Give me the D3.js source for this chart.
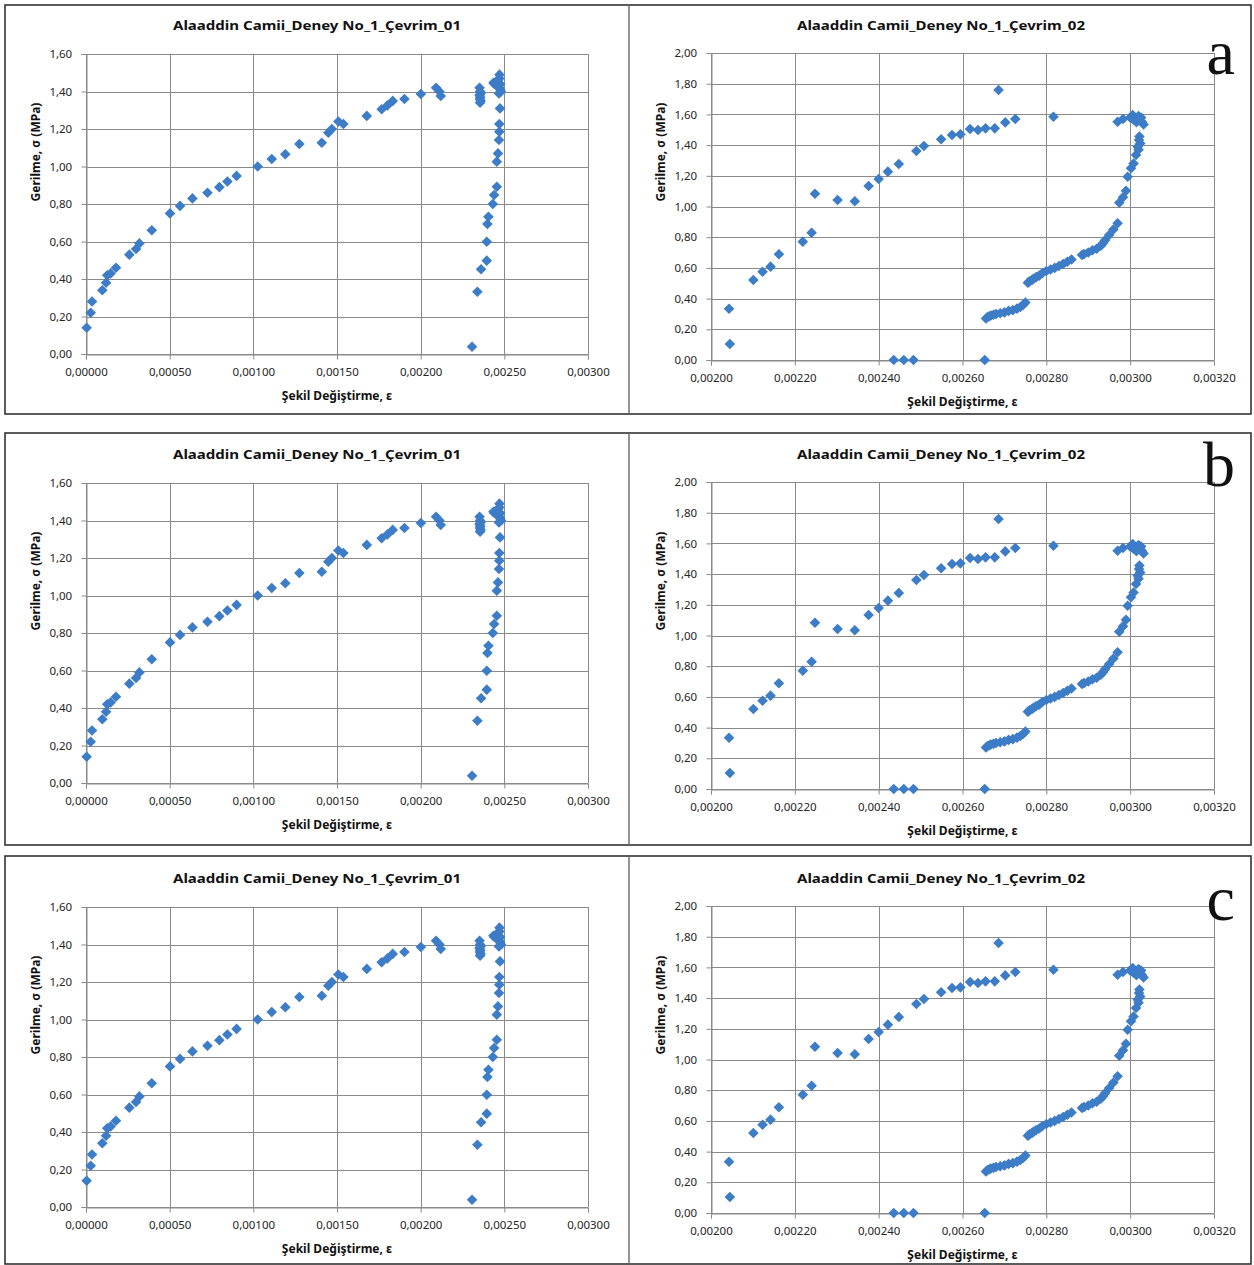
<!DOCTYPE html>
<html>
<head>
<meta charset="utf-8">
<script src="https://cdn.jsdelivr.net/npm/d3@7"></script>
<style>
  body { margin: 0; background: #fff; }
  svg { display: block; }
</style>
</head>
<body>
<svg id="mainsvg" width="1254" height="1265"></svg>
<script>
// cycle 01 : strain / stress
const strain01 = [0.000004,0.000028,0.000036,0.0000975,0.00012,0.000127,0.000147,0.000179,0.000259,0.000299,0.000319,0.000393,0.000502,0.000562,0.000636,0.000726,0.000797,0.000845,0.0009,0.001026,0.00111,0.001191,0.001275,0.001409,0.001448,0.001469,0.001508,0.001538,0.001678,0.001767,0.001801,0.001833,0.001903,0.002001,0.002092,0.002112,0.00212,
  0.002352,0.002355,0.002358,0.002352,0.002356,0.002354,0.002358,0.002355,
  0.002471,0.002435,0.00244,0.00245,0.00246,0.00247,0.002465,0.00247,0.002475,0.00248,0.002475,0.002468,
  0.002474,0.00247,0.00247,0.002468,0.002462,0.002455,0.002455,0.002439,0.002431,0.002405,0.002399,0.002395,0.002395,0.002361,0.002339,0.002307]
const stress01 = [0.14,0.22,0.28,0.34,0.38,0.42,0.43,0.46,0.53,0.56,0.59,0.66,0.75,0.79,0.83,0.86,0.89,0.92,0.95,1.00,1.04,1.065,1.12,1.127,1.18,1.20,1.24,1.227,1.27,1.305,1.326,1.35,1.36,1.387,1.42,1.40,1.376,
  1.42,1.40,1.39,1.38,1.37,1.36,1.35,1.34,
  1.49,1.447,1.44,1.45,1.46,1.47,1.43,1.42,1.41,1.40,1.44,1.39,
  1.31,1.227,1.186,1.141,1.07,1.026,0.892,0.848,0.80,0.732,0.693,0.599,0.498,0.452,0.332,0.039]

// cycle 02
const strain02 = [0.002043,0.002045,0.002101,0.002123,0.002142,0.002162,0.002219,0.00224,0.002248,0.002302,0.002343,0.002376,0.0024,0.002422,0.002448,0.00249,0.002508,0.002549,0.002575,0.002595,0.002618,0.002637,0.002655,0.002677,0.002702,0.002726,0.002686,0.002817,
  0.002436,0.00246,0.002483,0.002653,
  0.002656,0.00266,0.002664,0.002668,0.002674,0.00268,0.00269,0.0027,0.00271,0.00272,0.00273,0.002738,0.002745,0.00275,
  0.002756,0.00276,0.002766,0.00277,0.002776,0.002783,0.00279,0.0028,0.00281,0.00282,0.00283,0.00284,0.00285,0.00286,
  0.002885,0.00289,0.0029,0.00291,0.00292,0.00293,0.002935,0.00294,0.00295,0.00296,0.00297,
  0.002974,0.002983,0.00299,0.002994,0.003002,0.003008,0.003014,0.00302,0.003021,0.003022,0.003024,0.003018,
  0.003006,0.003024,0.00297,0.002983,0.003,0.003012,0.00302,0.003028,0.003015,0.003026,0.003008,0.003032]
const stress02 = [0.334,0.104,0.521,0.575,0.608,0.689,0.771,0.829,1.083,1.042,1.034,1.134,1.179,1.227,1.277,1.362,1.394,1.438,1.466,1.47,1.505,1.498,1.509,1.509,1.548,1.57,1.759,1.585,
  0,0,0,0,
  0.27,0.28,0.285,0.29,0.295,0.30,0.305,0.31,0.32,0.325,0.335,0.345,0.36,0.375,
  0.504,0.512,0.522,0.53,0.54,0.55,0.565,0.58,0.59,0.60,0.612,0.625,0.64,0.655,
  0.684,0.69,0.70,0.715,0.725,0.745,0.76,0.78,0.814,0.85,0.891,
  1.025,1.06,1.103,1.194,1.249,1.28,1.336,1.37,1.433,1.456,1.41,1.39,
  1.596,1.56,1.552,1.57,1.58,1.57,1.59,1.55,1.55,1.58,1.565,1.535]

const xTicks01 = [0,0.0005,0.001,0.0015,0.002,0.0025,0.003]
const yTicks01 = [0,0.2,0.4,0.6,0.8,1.0,1.2,1.4,1.6]
const xTicks02 = [0.002,0.0022,0.0024,0.0026,0.0028,0.003,0.0032]
const yTicks02 = [0,0.2,0.4,0.6,0.8,1.0,1.2,1.4,1.6,1.8,2.0]

const titles = ['Alaaddin Camii_Deney No_1_Çevrim_01','Alaaddin Camii_Deney No_1_Çevrim_02']
const panelLabels = ['a','b','c']

const xTitle = 'Şekil Değiştirme, ε'
const yTitle = 'Gerilme, σ (MPa)'

const trLocale = d3.formatLocale({decimal: ',', thousands: '.', grouping: [3], currency: ['', '']})
const fmtX = trLocale.format('.5f')
const fmtY = trLocale.format('.2f')

const markColor = '#3d7cc6'
const gridColor = '#8a8a8a'
const labelFont = '"Noto Sans", "Open Sans", sans-serif'

const svg = d3.select('#mainsvg')

// row boxes: top, height, vertical shift of the charts, letter baseline
const rows = [
  {top: 5, h: 409, dy: 0, lab: 74},
  {top: 433, h: 412, dy: 429, lab: 486},
  {top: 856, h: 408, dy: 853, lab: 920}
]

function drawChart(g, xs, ys, xDom, yDom, xTicks, yTicks, box, title, titleX, xTitleY) {
  let x = d3.scaleLinear().domain(xDom).range([box.l, box.r])
  let y = d3.scaleLinear().domain(yDom).range([box.b, box.t])

  // title
  g.append('text')
    .attr('x', titleX).attr('y', 30)
    .attr('text-anchor', 'middle')
    .attr('font-family', labelFont)
    .attr('font-weight', 'bold')
    .attr('font-size', '13px')
    .attr('textLength', 288)
    .attr('lengthAdjust', 'spacingAndGlyphs')
    .attr('fill', '#111')
    .text(title)

  // gridlines
  g.append('g').selectAll('line.h').data(yTicks).join('line')
    .attr('x1', box.l).attr('x2', box.r)
    .attr('y1', d => Math.round(y(d)) + 0.5).attr('y2', d => Math.round(y(d)) + 0.5)
    .attr('stroke', gridColor).attr('stroke-width', 1)
  g.append('g').selectAll('line.v').data(xTicks).join('line')
    .attr('y1', box.t).attr('y2', box.b)
    .attr('x1', d => Math.round(x(d)) + 0.5).attr('x2', d => Math.round(x(d)) + 0.5)
    .attr('stroke', gridColor).attr('stroke-width', 1)

  // axes
  let yAxis = d3.axisLeft(y).tickValues(yTicks).tickFormat(fmtY).tickSize(5).tickPadding(7)
  let xAxis = d3.axisBottom(x).tickValues(xTicks).tickFormat(fmtX).tickSize(5).tickPadding(8)

  let ya = g.append('g').attr('transform', `translate(${Math.round(box.l) + 0.5},0)`).call(yAxis)
  let xa = g.append('g').attr('transform', `translate(0,${Math.round(box.b) + 0.5})`).call(xAxis)
  for (let a of [ya, xa]) {
    a.select('.domain').attr('stroke', gridColor)
    a.selectAll('.tick line').attr('stroke', gridColor)
    a.selectAll('.tick text')
      .attr('font-family', labelFont)
      .attr('font-size', '11.5px')
      .attr('fill', '#262626')
  }
  ya.selectAll('.tick text').attr('dx', '-0.2em')

  // axis titles (Excel puts the y title above the plot centre)
  g.append('text')
    .attr('transform', `translate(${box.l - 50},152) rotate(-90)`)
    .attr('text-anchor', 'middle')
    .attr('dy', '0.35em')
    .attr('font-family', labelFont)
    .attr('font-weight', 'bold')
    .attr('font-size', '12px')
    .attr('fill', '#111')
    .text(yTitle)
  g.append('text')
    .attr('x', (box.l + box.r) / 2).attr('y', xTitleY)
    .attr('text-anchor', 'middle')
    .attr('font-family', labelFont)
    .attr('font-weight', 'bold')
    .attr('font-size', '12px')
    .attr('fill', '#111')
    .text(xTitle)

  // diamond markers
  let diamond = 'M0,-5.3L5.3,0L0,5.3L-5.3,0Z'
  g.append('g').selectAll('path').data(d3.range(xs.length)).join('path')
    .attr('d', diamond)
    .attr('transform', i => `translate(${x(xs[i])},${y(ys[i])})`)
    .attr('fill', markColor)
}

rows.forEach((row, k) => {
  const g = svg.append('g').attr('id', `row${k}`)

  g.append('rect')
    .attr('x', 5).attr('y', row.top)
    .attr('width', 1246).attr('height', row.h)
    .attr('fill', '#fff')
    .attr('stroke', '#333').attr('stroke-width', 1.6)
  g.append('line')
    .attr('x1', 629).attr('x2', 629)
    .attr('y1', row.top).attr('y2', row.top + row.h)
    .attr('stroke', '#666').attr('stroke-width', 1.4)

  const inner = g.append('g').attr('transform', `translate(0,${row.dy})`)
  drawChart(inner, strain01, stress01, [0, 0.003], [0, 1.6], xTicks01, yTicks01,
    {l: 86, r: 588, t: 54, b: 354}, titles[0], 317, 400)
  drawChart(inner, strain02, stress02, [0.002, 0.0032], [0, 2], xTicks02, yTicks02,
    {l: 711, r: 1214, t: 53, b: 360}, titles[1], 941, 406)

  // panel letter
  g.append('text')
    .attr('x', 1235).attr('y', row.lab)
    .attr('text-anchor', 'end')
    .attr('font-family', '"Liberation Serif", "DejaVu Serif", serif')
    .attr('font-size', '64px')
    .attr('fill', '#111')
    .text(panelLabels[k])
})
</script>
</body>
</html>
